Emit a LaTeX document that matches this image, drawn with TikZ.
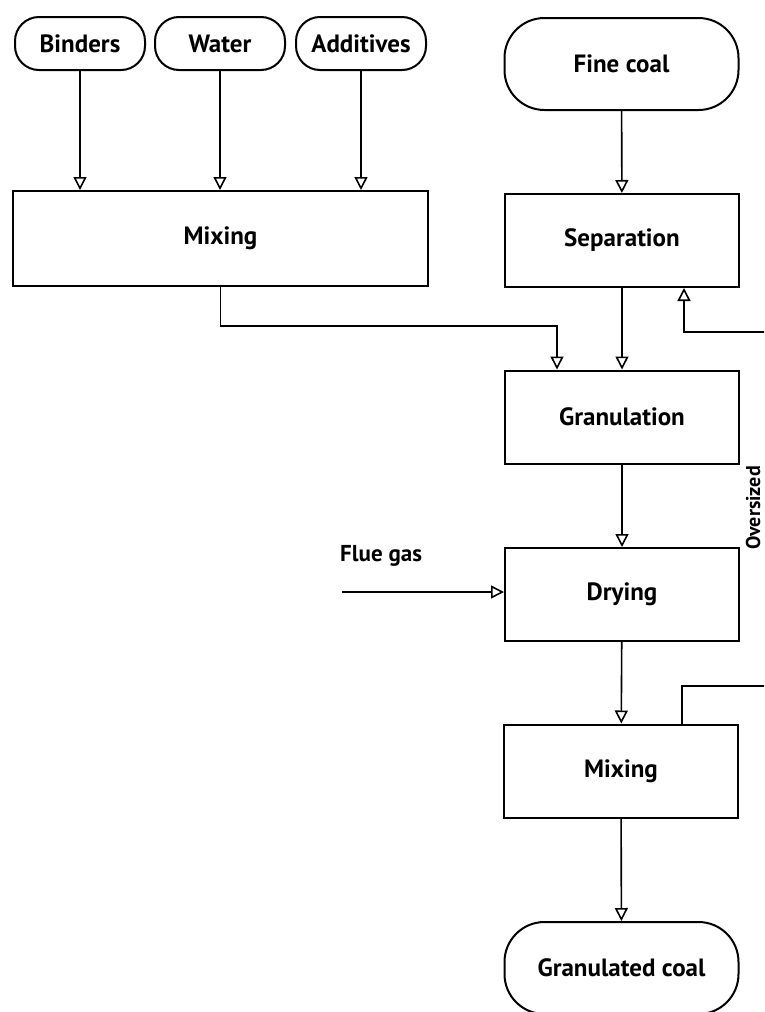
\documentclass[tikz,border=0pt]{standalone}
\usepackage{fontspec}
\setmainfont{PT Sans}
\usetikzlibrary{arrows.meta}
\tikzset{
  procbox/.style={draw, line width=2pt, minimum width=234pt, minimum height=93pt,
    inner sep=0pt, font=\bfseries\fontsize{25}{29}\selectfont},
  feedbox/.style={procbox, rounded corners=24pt, minimum width=130pt, minimum height=53pt},
  endbox/.style={procbox, rounded corners=40pt, minimum height=92pt},
  flow/.style={line width=1.6pt, -{Triangle[open, length=13pt, width=13pt, line width=1.6pt]}},
}
\begin{document}
\begin{tikzpicture}[x=1pt, y=-1pt]
    \useasboundingbox (0,0) rectangle (764,1012);
    \clip (0,0) rectangle (764,1012);
    % inputs
    \node[feedbox] (binders) at (80,43.5) {Binders};
    \node[feedbox] (water) at (220,43.5) {Water};
    \node[feedbox] (additives) at (361,43.5) {Additives};
    \node[endbox] (fine) at (621.5,64) {Fine coal};
    % process steps
    \node[procbox, minimum width=415pt, minimum height=95pt] (mix1) at (220.5,238.5) {Mixing};
    \node[procbox] (sep) at (622,240.5) {Separation};
    \node[procbox] (gran) at (622,417) {Granulation};
    \node[procbox] (dry) at (622,594.5) {Drying};
    \node[procbox] (mix2) at (621,771) {Mixing};
    \node[endbox] (product) at (621.5,968) {Granulated coal};
    \node[font=\bfseries\fontsize{23}{27}\selectfont, anchor=north west, inner sep=0pt] (fluegas) at (340,545) {Flue gas};
    \node[font=\bfseries\fontsize{20}{24}\selectfont, rotate=90, inner sep=0pt] (oversize) at (753,508) {Oversized};
    \coordinate (fluein) at (342,592);
    \coordinate (join) at (557,326);
    \coordinate (fbtop) at (778,332);
    \coordinate (fbbot) at (778,686);
    % connectors
    \draw[flow] (binders) -- (binders |- mix1.north);
    \draw[flow] (water) -- (water |- mix1.north);
    \draw[flow] (additives) -- (additives |- mix1.north);
    \draw[flow] (fine) -- (sep);
    \draw[flow] (sep) -- (gran);
    \draw[flow] (mix1.south) |- (join) -- (join |- gran.north);
    \draw[flow] (gran) -- (dry);
    \draw[flow] (fluein) -- (fluein -| dry.west);
    \draw[flow] (dry) -- (mix2);
    \draw[flow] (mix2) -- (product);
    \draw[flow] ([xshift=61pt]mix2.north) |- (fbbot) -- (fbtop) -| ([xshift=62pt]sep.south);
\end{tikzpicture}
\end{document}
